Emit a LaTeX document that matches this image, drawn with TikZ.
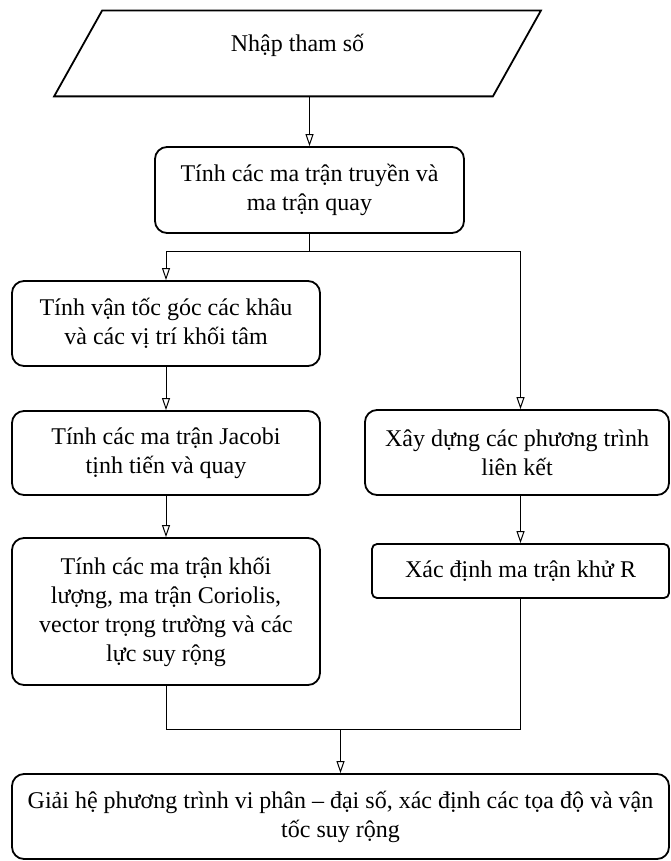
\documentclass[tikz,border=0pt]{standalone}
\usepackage{fontspec}
\setmainfont{Liberation Serif}
\usepackage{tikz}
\usetikzlibrary{
  shapes.geometric,
  arrows.meta,
  positioning
}
\tikzset{
  txt/.style={font=\fontsize{12}{14.5}\selectfont, align=center},
  procbox/.style={txt, draw, line width=0.9pt, rounded corners=6pt, inner sep=2pt},
  inbox/.style={txt, minimum width=219pt, minimum height=42.5pt, inner sep=1pt},
  arr/.style={-{Triangle[open,length=6pt,width=4pt]}, line width=0.5pt},
  link/.style={line width=0.5pt}
}

\begin{document}
\begin{tikzpicture}[x=0.5pt, y=-0.5pt]
\useasboundingbox (0,0) rectangle (670,861);
            % input (parallelogram)
            \node[inbox] (inp) at (297.5,53.5) {\raisebox{0.75pt}[0pt][0pt]{Nhập tham số}};
            \draw[line width=0.9pt] ([xshift=12pt]inp.north west) -- ([xshift=12pt]inp.north east)
              -- ([xshift=-12pt]inp.south east) -- ([xshift=-12pt]inp.south west) -- cycle;
            % processing boxes
            \node[procbox, minimum width=154.5pt, minimum height=43pt] (tr) at (309.5,190) {Tính các ma trận truyền và\\ma trận quay};
            \node[procbox, minimum width=154pt, minimum height=42.5pt] (b2) at (166,323.5) {Tính vận tốc góc các khâu\\và các vị trí khối tâm};
            \node[procbox, minimum width=154pt, minimum height=42pt] (b3) at (166,453) {Tính các ma trận Jacobi\\tịnh tiến và quay};
            \node[procbox, minimum width=152pt, minimum height=42.5pt] (b4) at (517,452.5) {Xây dựng các phương trình\\liên kết};
            \node[procbox, minimum width=154pt, minimum height=73.5pt] (b5) at (166,611.5) {Tính các ma trận khối\\lượng, ma trận Coriolis,\\vector trọng trường và các\\lực suy rộng};
            \node[procbox, rounded corners=2.5pt, minimum width=148.5pt, minimum height=27pt] (b6) at (520.5,571) {Xác định ma trận khử R};
            \node[procbox, minimum width=328.5pt, minimum height=42.5pt] (b7) at (340.5,816.5) {Giải hệ phương trình vi phân -- đại số, xác định các tọa độ và vận\\tốc suy rộng};
            % connectors
            \draw[arr] (inp.south -| tr.north) -- (tr.north);
            \coordinate (split) at ([yshift=-9pt]tr.south);
            \draw[link] (tr.south) -- (split);
            \draw[arr] (split) -| (b2.north);
            \draw[arr] (split) -| (b6.north |- b4.north);
            \draw[arr] (b2) -- (b3);
            \draw[arr] (b3) -- (b5);
            \draw[arr] (b6.north |- b4.south) -- (b6.north);
            \coordinate (join) at ([yshift=-22pt]b5.south -| b7.north);
            \draw[link] (b5.south) |- (b6.south |- join) -- (b6.south);
            \draw[arr] (join) -- (b7.north);
\end{tikzpicture}
\end{document}
